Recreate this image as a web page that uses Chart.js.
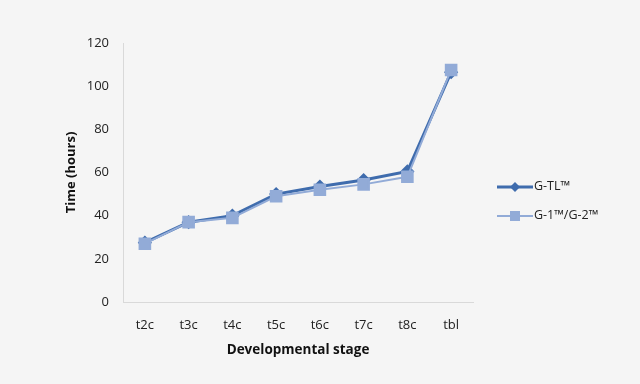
<!DOCTYPE html>
<html>
<head>
<meta charset="utf-8">
<script src="https://cdn.jsdelivr.net/npm/chart.js@4"></script>
<style>
  html, body { margin: 0; padding: 0; background: #f5f5f5; }
  #wrap { position: relative; width: 640px; height: 384px; background: #f5f5f5; }
  canvas { position: absolute; left: 0; top: 0; }
  .legend { position: absolute; left: 497px; font-family: "Open Sans", "Noto Sans", sans-serif; font-size: 12.5px; color: #222; }
  .item { position: absolute; left: 0; white-space: nowrap; height: 16px; line-height: 16px; }
  .sym { position: absolute; left: 0; top: 0; width: 36px; height: 16px; }
  .txt { position: absolute; left: 37px; top: -1px; }
</style>
</head>
<body>
<div id="wrap">
  <canvas id="c" width="640" height="384"></canvas>
  <div class="legend">
    <div class="item" style="top:179px">
      <svg class="sym" width="36" height="16"><line x1="0" y1="8" x2="36" y2="8" stroke="#3f6cad" stroke-width="3"/><polygon points="18,3 23,8 18,13 13,8" fill="#3f6cad"/></svg>
      <span class="txt">G-TL™</span>
    </div>
    <div class="item" style="top:208px">
      <svg class="sym" width="36" height="16"><line x1="0" y1="8" x2="36" y2="8" stroke="#92abd7" stroke-width="2"/><rect x="13" y="3" width="10" height="10" fill="#92abd7"/></svg>
      <span class="txt">G-1™/G-2™</span>
    </div>
  </div>
</div>
<script>
const categories = ["t2c", "t3c", "t4c", "t5c", "t6c", "t7c", "t8c", "tbl"];
const seriesGTL = [27.5, 37, 40, 50, 53.5, 56.5, 60.5, 106.5];
const seriesG12 = [27, 37, 39, 49, 52, 54.5, 58, 107.5];
const yTicks = [0, 20, 40, 60, 80, 100, 120];
const seriesNames = ["G-TL™", "G-1™/G-2™"];

const fam = '"Open Sans", "Noto Sans", sans-serif';
const font = { family: fam, size: 13 };

new Chart(document.getElementById('c'), {
  type: 'line',
  data: {
    labels: categories,
    datasets: [
      {
        label: seriesNames[0],
        data: seriesGTL,
        order: 1,
        borderColor: '#3f6cad',
        backgroundColor: '#3f6cad',
        borderWidth: 3,
        pointStyle: 'rectRot',
        pointRadius: 5,
        pointHoverRadius: 5,
        tension: 0
      },
      {
        label: seriesNames[1],
        data: seriesG12,
        order: 0,
        borderColor: '#92abd7',
        backgroundColor: '#92abd7',
        borderWidth: 2,
        pointStyle: 'rect',
        pointRadius: 7.5,
        pointHoverRadius: 7.5,
        tension: 0
      }
    ]
  },
  options: {
    responsive: false,
    animation: false,
    events: [],
    layout: { padding: { left: 63, right: 167, top: 43, bottom: 26 } },
    plugins: { legend: { display: false }, tooltip: { enabled: false } },
    scales: {
      x: {
        offset: true,
        grid: { display: false, drawTicks: false },
        border: { color: '#d9d9d9', width: 1 },
        ticks: { color: '#222', font: font, padding: 15, maxRotation: 0 },
        title: { display: true, text: 'Developmental stage', color: '#111', font: { family: fam, size: 13.5, weight: 'bold' }, padding: { top: 5, bottom: 0 } },
        afterFit: s => { s.height = 56; }
      },
      y: {
        min: 0, max: 120,
        afterBuildTicks: s => { s.ticks = yTicks.map(v => ({ value: v })); },
        grid: { display: false, drawTicks: false },
        border: { color: '#d9d9d9', width: 1 },
        ticks: { color: '#222', font: font, padding: 14 },
        title: { display: true, text: 'Time (hours)', color: '#111', font: { family: fam, size: 13, weight: 'bold' }, padding: { top: 0, bottom: 0 } },
        afterFit: s => { s.width = 60; }
      }
    }
  }
});
</script>
</body>
</html>
